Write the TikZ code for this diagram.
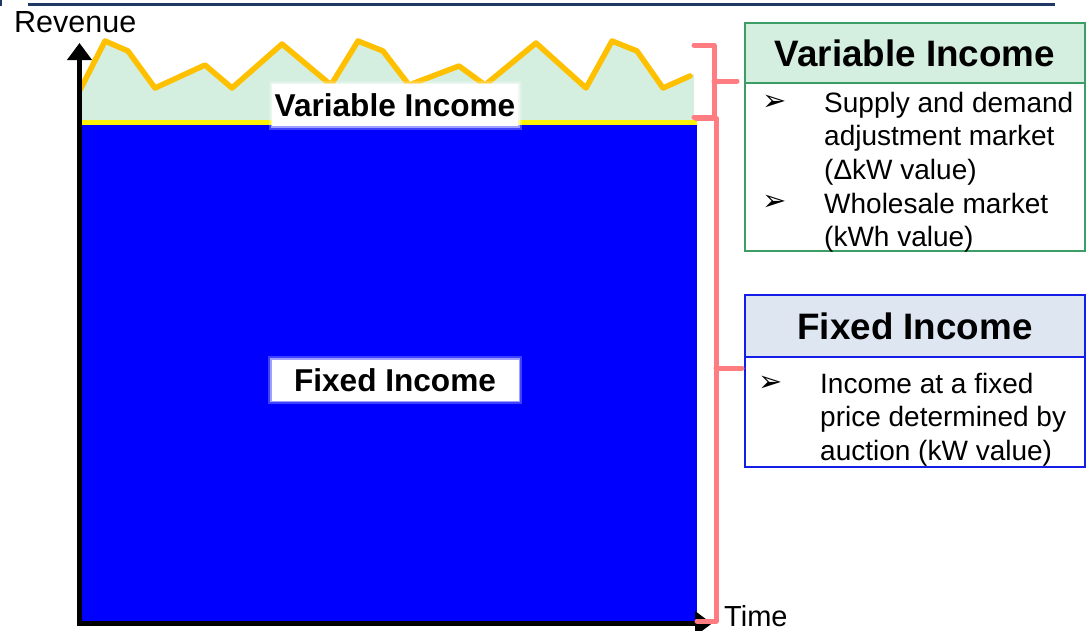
\documentclass[tikz,border=0pt]{standalone}
\usepackage{fontspec}
\setmainfont{Liberation Sans}
\newfontfamily\bulletfont{DejaVu Sans}
\usepackage{tikz}
\usetikzlibrary{arrows.meta, positioning}
\definecolor{navyline}{RGB}{32,56,100}
\definecolor{mintfill}{RGB}{212,238,223}
\definecolor{goldline}{RGB}{255,192,0}
\definecolor{bracketred}{RGB}{255,124,128}
\definecolor{boxgreen}{RGB}{60,158,100}
\definecolor{paleblue}{RGB}{222,230,242}
\definecolor{boxblue}{RGB}{20,30,230}

\begin{document}
\begin{tikzpicture}[x=1pt, y=-1pt,
        bodytext/.style={anchor=base west, inner sep=0pt, font=\fontsize{28}{33.7}\selectfont},
        bullet/.style={inner sep=0pt, font=\bulletfont\fontsize{29}{29}\selectfont},
        bracket/.style={bracketred, line width=5pt, line cap=round, line join=round},
        glow/.style={fill=white, draw=white, line width=2pt, inner sep=0pt,
            preaction={draw=white, opacity=0.25, line width=9pt},
            preaction={draw=white, opacity=0.5, line width=5pt},
            font=\bfseries\fontsize{31.6}{32}\selectfont},
        axis/.style={line width=5pt, line cap=rect, -{Triangle[width=24pt, length=17pt]}},
        headbox/.style={line width=2pt, outer sep=0pt, minimum width=340pt,
            font=\bfseries\fontsize{36.8}{40}\selectfont}]

        \useasboundingbox (0,0) rectangle (1086,630);

        % rule at the top
        \fill[navyline] (0,0) rectangle (2,6);
        \draw[navyline, line width=3pt] (28,4) -- (1055,4);

        % revenue areas
        \fill[mintfill] (78,121) -- (78,93) -- (80,90) -- (105,41) -- (128,51) -- (155,88) -- (205,65)
            -- (232,88) -- (282,44) -- (331,85) -- (358,41) -- (383,51) -- (409,85) -- (459,66)
            -- (485,85) -- (536,43) -- (586,88) -- (612,41) -- (637,51) -- (663,88) -- (690,76)
            -- (694,74) -- (694,121) -- cycle;
        \fill[blue] (78,124) rectangle (697,622);
        \fill[yellow] (78,120) rectangle (697,125);

        \draw[goldline, line width=5.5pt, line join=round, line cap=round] (80,90) -- (105,41) -- (128,51)
            -- (155,88) -- (205,65) -- (232,88) -- (282,44) -- (331,85) -- (358,41) -- (383,51)
            -- (409,85) -- (459,66) -- (485,85) -- (536,43) -- (586,88) -- (612,41) -- (637,51)
            -- (663,88) -- (690,76);

        \node[glow, minimum width=244pt, minimum height=40pt] (varlabel) at (395,105) {Variable Income};
        \node[glow, minimum width=245pt, minimum height=39pt] (fixlabel) at (395,380) {Fixed Income};

        % axes
        \coordinate (origin) at (79.5,623.5);
        \coordinate (ytip) at (79.5,43);
        \coordinate (xtip) at (712,623.5);
        \draw[axis] (origin) -- (ytip);
        \draw[axis] (origin) -- (xtip);
        \node[anchor=base west, inner sep=0pt, font=\fontsize{30.5}{31}\selectfont] (revenue) at (14,32) {Revenue};
        \node[anchor=base west, inner sep=0pt, font=\fontsize{29}{30}\selectfont] (time) at (724,626) {Time};

        % variable income box
        \node[headbox, draw=boxgreen, fill=mintfill, minimum height=60pt] (varhead) at (915,53) {Variable Income};
        \node[headbox, draw=boxgreen, fill=white, minimum height=168pt, below=0pt of varhead] (varbody) {};
        \node[bullet] (vbul1) at (775,103) {➢};
        \node[bodytext] (vtxt1) at (824,112) {Supply and demand};
        \node[bodytext] (vtxt2) at (824,145.7) {adjustment market};
        \node[bodytext] (vtxt3) at (824,179.4) {(ΔkW value)};
        \node[bullet] (vbul2) at (775,203) {➢};
        \node[bodytext] (vtxt4) at (824,213.1) {Wholesale market};
        \node[bodytext] (vtxt5) at (824,246.8) {(kWh value)};

        % fixed income box
        \node[headbox, draw=boxblue, fill=paleblue, minimum height=62pt] (fixhead) at (915,326) {Fixed Income};
        \node[headbox, draw=boxblue, fill=white, minimum height=110pt, below=0pt of fixhead] (fixbody) {};
        \node[bullet] (fbul1) at (770.5,384) {➢};
        \node[bodytext] (ftxt1) at (820,393) {Income at a fixed};
        \node[bodytext] (ftxt2) at (820,426.7) {price determined by};
        \node[bodytext] (ftxt3) at (820,460.4) {auction (kW value)};

        % brackets
        \coordinate (vtick) at (714,81);
        \coordinate (ftick) at (716,368);
        \draw[bracket] (694,45) -| (714,117) -- (694,117);
        \draw[bracket] (696,118) -| (716,621) -- (697,621);
        \draw[bracket] (vtick) -- ([xshift=-8pt]vtick -| varhead.west);
        \draw[bracket] (ftick) -- ([xshift=-3pt]ftick -| fixbody.west);
    \end{tikzpicture}
\end{document}
